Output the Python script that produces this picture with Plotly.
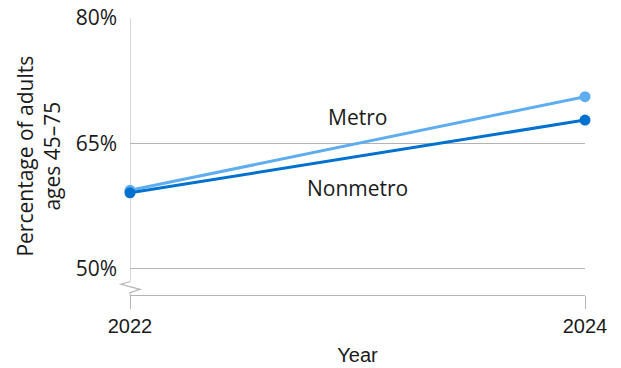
import plotly.graph_objects as go

years = [2022, 2024]
metro = [59.4, 70.6]
nonmetro = [59.1, 67.8]
y_ticks = [50, 65, 80]
y_tick_labels = ["50%", "65%", "80%"]

METRO_C = "#5DADF0"
NONMETRO_C = "#0071CE"
GRID_C = "#b3b3b3"
LABEL_FONT = "Open Sans"
ARIAL = "Liberation Sans, Arial, sans-serif"

fig = go.Figure()
fig.add_trace(go.Scatter(x=years, y=metro, mode="lines+markers", name="Metro",
                         line=dict(color=METRO_C, width=3),
                         marker=dict(color=METRO_C, size=11), cliponaxis=False))
fig.add_trace(go.Scatter(x=years, y=nonmetro, mode="lines+markers", name="Nonmetro",
                         line=dict(color=NONMETRO_C, width=3),
                         marker=dict(color=NONMETRO_C, size=11), cliponaxis=False))

ymin = 46.89
fig.update_layout(
    width=621, height=368,
    margin=dict(l=130, r=36, t=18, b=73),
    paper_bgcolor="white", plot_bgcolor="white",
    showlegend=False,
    xaxis=dict(range=[2022, 2024], tickvals=years, ticktext=[str(y) for y in years],
               automargin=False,
               showgrid=False, zeroline=False, showline=True, linecolor=GRID_C, linewidth=1,
               ticks="outside", ticklen=13, tickcolor=GRID_C, tickwidth=1,
               tickfont=dict(family=ARIAL, size=20, color="#1a1a1a"),
               title=dict(text="Year", font=dict(family=ARIAL, size=20, color="#1a1a1a"), standoff=11)),
    yaxis=dict(range=[ymin, 80], tickvals=y_ticks, ticktext=y_tick_labels,
               automargin=False,
               showgrid=True, gridcolor=GRID_C, gridwidth=1, zeroline=False, showline=False,
               ticks="", ticklabelstandoff=12,
               tickfont=dict(family=LABEL_FONT, size=21, color="#1a1a1a")),
)

# y-axis line with break (axis decoration)
fig.add_shape(type="line", xref="x", yref="y", x0=2022, x1=2022, y0=80, y1=48.48,
              line=dict(color=GRID_C, width=1), layer="below")
fig.add_shape(type="path", xref="paper", yref="paper",
              path="M0,0.048 L-0.02,0.0387 L0.022,0.0205 L0,0.0085 L0,0",
              line=dict(color=GRID_C, width=1.2), layer="below")

fig.add_annotation(x=2023, y=68.2, text="Metro", showarrow=False,
                   font=dict(family=LABEL_FONT, size=21, color="#1a1a1a"))
fig.add_annotation(x=2023, y=59.7, text="Nonmetro", showarrow=False,
                   font=dict(family=LABEL_FONT, size=21, color="#1a1a1a"))
fig.add_annotation(xref="paper", yref="paper", x=-0.202, y=0.5, textangle=-90,
                   text="Percentage of adults<br>ages 45\u201375", showarrow=False,
                   xanchor="center", yanchor="middle",
                   font=dict(family=LABEL_FONT, size=21, color="#1a1a1a"))

fig.write_html("out.html")
